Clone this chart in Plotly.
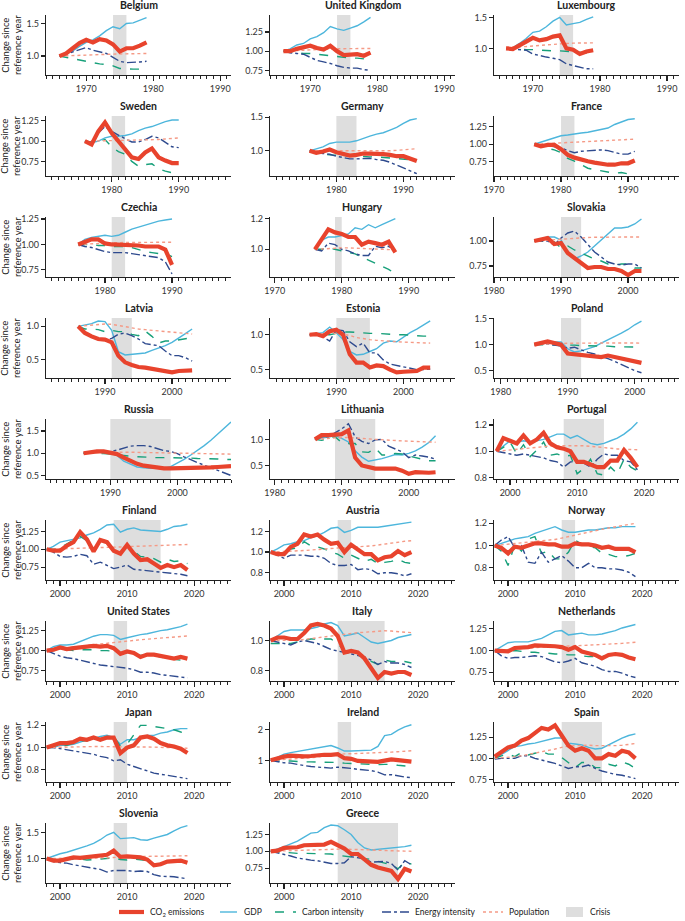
import plotly.graph_objects as go

# ---------------- DATA ----------------
COUNTRIES = ["Belgium", "United Kingdom", "Luxembourg",
             "Sweden", "Germany", "France",
             "Czechia", "Hungary", "Slovakia",
             "Latvia", "Estonia", "Poland",
             "Russia", "Lithuania", "Portugal",
             "Finland", "Austria", "Norway",
             "United States", "Italy", "Netherlands",
             "Japan", "Ireland", "Spain",
             "Slovenia", "Greece"]

START_YEAR = [1966, 1966, 1966, 1976, 1976, 1976, 1976, 1976, 1986,
              1986, 1986, 1985, 1986, 1986, 1998, 1998, 1998, 1998,
              1998, 1998, 1998, 1998, 1998, 1998, 1998, 1998]

CRISIS_START = [1974, 1974, 1974, 1980, 1980, 1980, 1981, 1979, 1990,
                1991, 1990, 1989, 1990, 1989, 2008, 2008, 2008, 2008,
                2008, 2008, 2008, 2008, 2008, 2008, 2008, 2008]
CRISIS_END = [1976, 1976, 1976, 1982, 1983, 1982, 1983, 1980, 1993,
              1994, 1995, 1992, 1999, 1995, 2014, 2015, 2010, 2010,
              2010, 2015, 2010, 2010, 2010, 2014, 2010, 2017]

CO2 = {
    "Belgium": [1.00, 1.04, 1.12, 1.20, 1.25, 1.21, 1.26, 1.24, 1.18, 1.07, 1.12, 1.12, 1.16, 1.21],
    "United Kingdom": [1.00, 1.00, 1.03, 1.05, 1.07, 1.04, 1.02, 1.07, 1.00, 0.95, 0.96, 0.96, 0.94, 0.98],
    "Luxembourg": [1.00, 0.99, 1.05, 1.12, 1.17, 1.13, 1.15, 1.19, 1.21, 1.00, 0.98, 0.91, 0.95, 0.97],
    "Sweden": [1.00, 0.96, 1.12, 1.23, 1.10, 1.00, 0.92, 0.80, 0.78, 0.86, 0.91, 0.80, 0.76, 0.73, 0.73],
    "Germany": [1.00, 0.97, 0.99, 1.02, 0.98, 0.95, 0.93, 0.94, 0.96, 0.96, 0.96, 0.95, 0.94, 0.92, 0.92, 0.89, 0.85],
    "France": [1.00, 0.97, 0.99, 0.99, 0.93, 0.85, 0.81, 0.78, 0.76, 0.74, 0.72, 0.71, 0.71, 0.73, 0.73, 0.77],
    "Czechia": [1.00, 1.03, 1.05, 1.05, 1.01, 1.00, 1.00, 0.99, 0.99, 0.99, 0.98, 0.98, 0.98, 0.95, 0.80],
    "Hungary": [1.00, 1.06, 1.13, 1.11, 1.10, 1.08, 1.08, 1.03, 1.05, 1.04, 1.03, 1.05, 0.98],
    "Slovakia": [1.00, 1.02, 1.03, 0.97, 0.98, 0.88, 0.83, 0.78, 0.73, 0.74, 0.74, 0.72, 0.72, 0.70, 0.66, 0.70, 0.70],
    "Latvia": [1.00, 0.90, 0.85, 0.81, 0.80, 0.76, 0.56, 0.46, 0.42, 0.39, 0.38, 0.36, 0.35, 0.33, 0.31, 0.33, 0.34, 0.34],
    "Estonia": [1.00, 1.01, 0.98, 1.05, 1.07, 1.00, 0.72, 0.60, 0.60, 0.53, 0.56, 0.55, 0.50, 0.46, 0.47, 0.48, 0.48, 0.53, 0.53],
    "Poland": [1.00, 1.03, 1.06, 1.03, 1.00, 0.83, 0.82, 0.80, 0.78, 0.78, 0.76, 0.79, 0.76, 0.73, 0.71, 0.66, 0.65],
    "Russia": [1.00, 1.03, 1.04, 1.04, 1.01, 0.98, 0.90, 0.82, 0.76, 0.72, 0.70, 0.67, 0.66, 0.66, 0.66, 0.66, 0.66, 0.67, 0.67, 0.68, 0.69, 0.70, 0.71],
    "Lithuania": [1.00, 1.08, 1.08, 1.08, 1.10, 1.17, 0.65, 0.50, 0.46, 0.44, 0.44, 0.43, 0.44, 0.40, 0.34, 0.37, 0.36, 0.36, 0.37],
    "Portugal": [1.00, 1.10, 1.08, 1.06, 1.12, 1.06, 1.09, 1.14, 1.06, 1.03, 1.02, 1.00, 0.92, 0.92, 0.90, 0.88, 0.88, 0.93, 0.93, 1.01, 0.95, 0.88],
    "Finland": [1.00, 0.98, 0.98, 1.05, 1.10, 1.24, 1.14, 0.97, 1.13, 1.10, 0.98, 0.94, 1.06, 0.94, 0.85, 0.86, 0.80, 0.74, 0.78, 0.75, 0.78, 0.71],
    "Austria": [1.00, 0.98, 0.98, 1.05, 1.08, 1.17, 1.15, 1.17, 1.12, 1.08, 1.09, 1.00, 1.07, 1.02, 0.98, 0.98, 0.92, 0.95, 0.96, 1.01, 0.97, 1.00],
    "Norway": [1.00, 0.98, 0.93, 0.99, 0.98, 1.00, 1.02, 1.02, 1.01, 1.01, 0.99, 0.99, 1.02, 1.01, 1.01, 1.00, 0.98, 0.99, 0.97, 0.97, 0.97, 0.94],
    "United States": [1.00, 1.01, 1.04, 1.02, 1.03, 1.04, 1.05, 1.06, 1.05, 1.06, 1.03, 0.96, 0.99, 0.97, 0.92, 0.95, 0.95, 0.93, 0.91, 0.90, 0.92, 0.90],
    "Italy": [1.00, 1.02, 1.02, 1.01, 1.01, 1.05, 1.10, 1.11, 1.10, 1.08, 1.03, 0.92, 0.93, 0.92, 0.88, 0.82, 0.75, 0.79, 0.78, 0.79, 0.79, 0.77],
    "Netherlands": [1.00, 0.99, 0.99, 1.03, 1.03, 1.04, 1.06, 1.06, 1.05, 1.05, 1.04, 1.01, 1.04, 0.99, 0.97, 0.95, 0.91, 0.95, 0.96, 0.95, 0.92, 0.90],
    "Japan": [1.00, 1.02, 1.04, 1.04, 1.05, 1.08, 1.07, 1.09, 1.07, 1.09, 1.09, 0.95, 1.00, 1.02, 1.09, 1.10, 1.08, 1.04, 1.02, 1.01, 0.99, 0.95],
    "Ireland": [1.00, 1.07, 1.12, 1.15, 1.13, 1.13, 1.14, 1.17, 1.18, 1.18, 1.20, 1.07, 1.05, 0.98, 0.97, 0.96, 0.95, 0.99, 1.03, 1.01, 1.00, 0.96],
    "Spain": [1.02, 1.08, 1.13, 1.15, 1.21, 1.24, 1.30, 1.36, 1.34, 1.39, 1.27, 1.15, 1.09, 1.12, 1.09, 1.00, 1.00, 1.05, 1.03, 1.09, 1.07, 1.00],
    "Slovenia": [1.00, 0.96, 0.96, 1.00, 1.02, 1.01, 1.02, 1.04, 1.05, 1.07, 1.15, 1.03, 1.04, 1.04, 1.02, 0.98, 0.87, 0.89, 0.94, 0.95, 0.96, 0.92],
    "Greece": [1.00, 1.01, 1.05, 1.06, 1.06, 1.09, 1.09, 1.10, 1.10, 1.14, 1.09, 1.04, 0.96, 0.96, 0.88, 0.80, 0.76, 0.74, 0.71, 0.59, 0.74, 0.70],
}

GDP = {
    "Belgium": [1.00, 1.04, 1.08, 1.15, 1.21, 1.25, 1.31, 1.39, 1.45, 1.42, 1.50, 1.51, 1.55, 1.59],
    "United Kingdom": [1.00, 1.03, 1.08, 1.10, 1.16, 1.19, 1.24, 1.32, 1.29, 1.27, 1.30, 1.33, 1.38, 1.44],
    "Luxembourg": [1.00, 1.01, 1.08, 1.16, 1.26, 1.28, 1.35, 1.44, 1.50, 1.38, 1.40, 1.42, 1.47, 1.51],
    "Sweden": [1.00, 0.98, 1.00, 1.04, 1.06, 1.06, 1.07, 1.09, 1.13, 1.16, 1.18, 1.21, 1.24, 1.26, 1.26],
    "Germany": [1.00, 1.03, 1.06, 1.11, 1.13, 1.13, 1.13, 1.15, 1.19, 1.22, 1.25, 1.27, 1.31, 1.35, 1.41, 1.46, 1.48],
    "France": [1.00, 1.03, 1.07, 1.10, 1.12, 1.13, 1.15, 1.16, 1.17, 1.19, 1.21, 1.23, 1.28, 1.32, 1.35, 1.36],
    "Czechia": [1.00, 1.05, 1.07, 1.08, 1.09, 1.08, 1.09, 1.12, 1.15, 1.17, 1.19, 1.21, 1.23, 1.24, 1.25],
    "Hungary": [1.00, 1.06, 1.08, 1.08, 1.09, 1.10, 1.14, 1.13, 1.16, 1.14, 1.16, 1.18, 1.20],
    "Slovakia": [1.00, 1.02, 1.04, 1.04, 1.01, 0.88, 0.82, 0.85, 0.89, 0.95, 1.01, 1.07, 1.13, 1.13, 1.14, 1.17, 1.22],
    "Latvia": [1.00, 1.02, 1.04, 1.08, 1.07, 0.94, 0.62, 0.57, 0.58, 0.59, 0.60, 0.64, 0.67, 0.71, 0.76, 0.82, 0.89, 0.96],
    "Estonia": [1.00, 1.02, 1.03, 1.11, 1.03, 0.93, 0.76, 0.71, 0.72, 0.76, 0.80, 0.88, 0.91, 0.90, 0.97, 1.03, 1.08, 1.14, 1.20],
    "Poland": [1.00, 1.03, 1.05, 1.05, 1.05, 0.92, 0.86, 0.88, 0.92, 0.96, 1.03, 1.09, 1.16, 1.22, 1.29, 1.38, 1.45],
    "Russia": [1.00, 1.01, 1.03, 1.03, 1.00, 0.95, 0.82, 0.76, 0.69, 0.67, 0.66, 0.67, 0.66, 0.70, 0.78, 0.86, 0.96, 1.06, 1.17, 1.29, 1.42, 1.56, 1.70],
    "Lithuania": [1.00, 1.02, 1.05, 1.07, 1.02, 0.95, 0.78, 0.66, 0.58, 0.60, 0.63, 0.67, 0.71, 0.70, 0.73, 0.78, 0.85, 0.94, 1.07],
    "Portugal": [1.00, 1.04, 1.08, 1.07, 1.08, 1.07, 1.08, 1.09, 1.11, 1.13, 1.13, 1.10, 1.12, 1.09, 1.06, 1.05, 1.06, 1.08, 1.10, 1.13, 1.17, 1.22],
    "Finland": [1.00, 1.04, 1.10, 1.12, 1.14, 1.16, 1.20, 1.23, 1.28, 1.34, 1.35, 1.24, 1.28, 1.30, 1.27, 1.26, 1.25, 1.25, 1.28, 1.32, 1.33, 1.35],
    "Austria": [1.00, 1.03, 1.07, 1.08, 1.10, 1.11, 1.14, 1.16, 1.19, 1.23, 1.24, 1.19, 1.21, 1.24, 1.24, 1.24, 1.24, 1.25, 1.26, 1.27, 1.28, 1.29],
    "Norway": [1.00, 1.02, 1.04, 1.06, 1.07, 1.08, 1.11, 1.13, 1.15, 1.17, 1.14, 1.12, 1.12, 1.13, 1.14, 1.14, 1.15, 1.16, 1.16, 1.17, 1.17, 1.17],
    "United States": [1.00, 1.05, 1.07, 1.07, 1.08, 1.11, 1.15, 1.18, 1.20, 1.20, 1.19, 1.14, 1.16, 1.18, 1.20, 1.21, 1.23, 1.25, 1.26, 1.28, 1.30, 1.33],
    "Italy": [1.00, 1.03, 1.06, 1.07, 1.07, 1.07, 1.08, 1.09, 1.11, 1.12, 1.10, 1.03, 1.04, 1.05, 1.02, 0.99, 0.98, 0.99, 1.00, 1.02, 1.03, 1.04],
    "Netherlands": [1.00, 1.05, 1.09, 1.10, 1.10, 1.10, 1.12, 1.14, 1.18, 1.22, 1.23, 1.18, 1.19, 1.20, 1.18, 1.18, 1.19, 1.21, 1.23, 1.26, 1.28, 1.30],
    "Japan": [1.00, 1.00, 1.02, 1.02, 1.03, 1.05, 1.07, 1.08, 1.10, 1.11, 1.09, 1.03, 1.07, 1.07, 1.09, 1.11, 1.11, 1.13, 1.14, 1.16, 1.17, 1.17],
    "Ireland": [1.00, 1.11, 1.20, 1.25, 1.29, 1.32, 1.36, 1.40, 1.44, 1.48, 1.40, 1.30, 1.30, 1.31, 1.31, 1.33, 1.45, 1.80, 1.84, 1.98, 2.08, 2.15],
    "Spain": [1.00, 1.05, 1.10, 1.14, 1.15, 1.17, 1.18, 1.20, 1.22, 1.24, 1.24, 1.18, 1.17, 1.16, 1.13, 1.11, 1.12, 1.16, 1.20, 1.24, 1.27, 1.29],
    "Slovenia": [1.00, 1.05, 1.09, 1.12, 1.16, 1.19, 1.24, 1.29, 1.36, 1.45, 1.50, 1.38, 1.39, 1.40, 1.36, 1.35, 1.39, 1.42, 1.46, 1.53, 1.59, 1.63],
    "Greece": [1.00, 1.03, 1.07, 1.11, 1.15, 1.21, 1.27, 1.28, 1.35, 1.39, 1.38, 1.32, 1.25, 1.13, 1.05, 1.02, 1.03, 1.03, 1.04, 1.05, 1.07, 1.09],
}

CARBON_INTENSITY = {
    "Belgium": [1.00, 0.98, 0.95, 0.93, 0.91, 0.90, 0.88, 0.87, 0.85, 0.81, 0.80, 0.80, 0.80, 0.81],
    "United Kingdom": [1.00, 0.99, 0.98, 0.97, 0.97, 0.96, 0.95, 0.94, 0.93, 0.92, 0.91, 0.91, 0.90, 0.87],
    "Luxembourg": [1.00, 0.99, 0.99, 0.98, 0.98, 0.97, 0.97, 0.96, 0.96, 0.95, 0.94, 0.93, 0.93, 0.93],
    "Sweden": [1.00, 0.99, 0.99, 1.02, 0.93, 0.87, 0.84, 0.75, 0.69, 0.71, 0.72, 0.66, 0.63, 0.61, 0.61],
    "Germany": [1.00, 0.97, 0.95, 0.94, 0.93, 0.93, 0.93, 0.92, 0.92, 0.91, 0.91, 0.90, 0.90, 0.89, 0.88, 0.87, 0.86],
    "France": [1.00, 0.96, 0.94, 0.92, 0.88, 0.80, 0.76, 0.71, 0.66, 0.64, 0.62, 0.60, 0.59, 0.60, 0.58, 0.58],
    "Czechia": [1.00, 1.00, 1.00, 0.99, 0.99, 0.98, 0.98, 0.98, 0.97, 0.95, 0.93, 0.92, 0.91, 0.91, 0.88],
    "Hungary": [1.00, 1.00, 1.01, 1.00, 0.99, 0.98, 0.97, 0.95, 0.93, 0.91, 0.89, 0.87, 0.84],
    "Slovakia": [1.00, 1.00, 0.99, 0.99, 0.93, 0.95, 0.91, 0.88, 0.85, 0.82, 0.80, 0.77, 0.76, 0.77, 0.77, 0.73, 0.73],
    "Latvia": [1.00, 0.96, 0.96, 0.95, 0.92, 0.94, 0.92, 0.92, 0.88, 0.86, 0.93, 0.85, 0.75, 0.78, 0.78, 0.80, 0.82, 0.83],
    "Estonia": [1.00, 1.00, 0.99, 1.00, 1.02, 1.04, 1.04, 1.03, 1.03, 1.02, 1.02, 1.01, 1.01, 1.00, 1.00, 0.99, 0.98, 0.98, 0.98],
    "Poland": [1.00, 1.00, 1.00, 1.00, 0.99, 0.99, 0.99, 0.98, 0.98, 0.98, 0.97, 0.97, 0.96, 0.96, 0.95, 0.95, 0.95],
    "Russia": [1.00, 1.00, 1.00, 0.99, 0.98, 0.97, 0.95, 0.93, 0.92, 0.91, 0.91, 0.90, 0.90, 0.90, 0.89, 0.89, 0.89, 0.88, 0.88, 0.87, 0.87, 0.86, 0.86],
    "Lithuania": [1.00, 0.98, 1.02, 1.05, 0.94, 0.92, 0.92, 0.76, 0.75, 0.83, 0.70, 0.70, 0.73, 0.72, 0.68, 0.65, 0.63, 0.59, 0.59],
    "Portugal": [1.00, 1.03, 1.07, 0.98, 1.05, 0.96, 1.01, 1.07, 0.97, 0.98, 0.96, 0.97, 0.83, 0.87, 0.94, 0.83, 0.82, 0.88, 0.83, 0.94, 0.88, 0.85],
    "Finland": [1.00, 1.00, 1.02, 1.07, 1.12, 1.18, 1.12, 1.00, 1.09, 1.08, 0.99, 0.98, 1.05, 0.97, 0.90, 0.89, 0.87, 0.82, 0.86, 0.83, 0.84, 0.80],
    "Austria": [1.00, 0.97, 0.98, 1.03, 1.04, 1.10, 1.06, 1.05, 1.03, 1.00, 0.98, 0.94, 0.97, 0.94, 0.91, 0.93, 0.89, 0.90, 0.91, 0.93, 0.90, 0.89],
    "Norway": [1.00, 0.95, 0.82, 1.01, 0.95, 1.06, 1.08, 0.93, 0.95, 0.88, 0.88, 0.94, 1.05, 1.01, 0.99, 0.98, 0.93, 0.92, 0.90, 0.90, 0.91, 0.93],
    "United States": [1.00, 1.00, 1.01, 1.01, 1.00, 1.01, 1.01, 1.01, 1.00, 1.00, 0.99, 0.97, 0.97, 0.96, 0.94, 0.95, 0.94, 0.92, 0.90, 0.89, 0.88, 0.87],
    "Italy": [0.98, 0.98, 0.98, 0.98, 0.99, 1.00, 1.01, 1.01, 1.01, 1.01, 0.98, 0.93, 0.93, 0.92, 0.89, 0.86, 0.84, 0.87, 0.86, 0.86, 0.86, 0.85],
    "Netherlands": [1.00, 0.99, 0.99, 1.00, 0.99, 0.98, 0.98, 0.97, 0.97, 0.96, 0.96, 0.95, 0.95, 0.94, 0.93, 0.93, 0.93, 0.95, 0.96, 0.94, 0.93, 0.92],
    "Japan": [1.00, 1.01, 1.01, 1.02, 1.04, 1.06, 1.06, 1.08, 1.08, 1.10, 1.10, 1.01, 1.03, 1.11, 1.20, 1.20, 1.19, 1.18, 1.17, 1.16, 1.14, 1.13],
    "Ireland": [1.00, 0.98, 0.97, 0.98, 0.96, 0.95, 0.95, 0.95, 0.94, 0.93, 0.93, 0.91, 0.90, 0.88, 0.88, 0.87, 0.86, 0.87, 0.87, 0.84, 0.82, 0.80],
    "Spain": [1.00, 1.03, 1.05, 1.02, 1.07, 1.04, 1.06, 1.08, 1.05, 1.05, 1.01, 0.95, 0.89, 0.95, 0.95, 0.89, 0.89, 0.93, 0.91, 0.96, 0.93, 0.88],
    "Slovenia": [1.00, 0.98, 0.97, 0.98, 0.99, 0.99, 0.97, 0.98, 0.98, 1.00, 1.01, 0.98, 0.97, 0.99, 0.98, 0.96, 0.87, 0.91, 0.93, 0.94, 0.94, 0.91],
    "Greece": [1.00, 0.99, 0.98, 0.97, 0.97, 0.97, 0.97, 0.96, 0.96, 0.96, 0.94, 0.93, 0.92, 0.91, 0.90, 0.88, 0.85, 0.83, 0.80, 0.74, 0.84, 0.81],
}

ENERGY_INTENSITY = {
    "Belgium": [1.00, 1.03, 1.07, 1.10, 1.13, 1.09, 1.07, 1.04, 0.98, 0.92, 0.90, 0.90, 0.91, 0.92],
    "United Kingdom": [1.00, 0.98, 0.97, 0.96, 0.92, 0.88, 0.86, 0.84, 0.81, 0.79, 0.78, 0.78, 0.76, 0.75],
    "Luxembourg": [1.00, 0.99, 0.98, 0.97, 0.91, 0.88, 0.86, 0.84, 0.82, 0.75, 0.72, 0.69, 0.67, 0.67],
    "Sweden": [1.00, 0.98, 1.10, 1.18, 1.12, 1.07, 1.03, 0.99, 0.99, 1.02, 1.06, 1.04, 0.99, 0.93, 0.92],
    "Germany": [1.00, 0.97, 0.96, 0.95, 0.92, 0.90, 0.88, 0.88, 0.89, 0.89, 0.87, 0.86, 0.83, 0.79, 0.74, 0.70, 0.66],
    "France": [1.00, 0.98, 0.98, 0.97, 0.95, 0.91, 0.88, 0.90, 0.91, 0.92, 0.92, 0.91, 0.88, 0.86, 0.86, 0.90],
    "Czechia": [1.00, 0.98, 0.97, 0.95, 0.93, 0.92, 0.92, 0.92, 0.91, 0.90, 0.89, 0.88, 0.87, 0.83, 0.71],
    "Hungary": [1.00, 0.99, 1.04, 1.03, 1.00, 0.99, 0.97, 0.96, 0.96, 1.02, 1.01, 1.02, 0.99],
    "Slovakia": [1.00, 1.00, 1.00, 0.96, 1.03, 1.08, 1.10, 1.04, 0.97, 0.89, 0.84, 0.79, 0.77, 0.76, 0.77, 0.77, 0.73],
    "Latvia": [1.00, 0.92, 0.86, 0.80, 0.79, 0.82, 0.88, 0.90, 0.86, 0.81, 0.74, 0.73, 0.71, 0.63, 0.56, 0.56, 0.53, 0.48],
    "Estonia": [1.00, 1.00, 0.97, 0.91, 1.07, 1.06, 0.90, 0.83, 0.88, 0.74, 0.74, 0.64, 0.58, 0.56, 0.54, 0.53, 0.50, 0.50, 0.51],
    "Poland": [1.00, 1.00, 1.01, 0.99, 0.97, 0.93, 0.95, 0.90, 0.85, 0.82, 0.78, 0.73, 0.68, 0.62, 0.56, 0.50, 0.46],
    "Russia": [1.00, 1.02, 1.02, 1.03, 1.04, 1.07, 1.12, 1.16, 1.17, 1.17, 1.15, 1.10, 1.06, 1.04, 0.99, 0.92, 0.85, 0.79, 0.73, 0.67, 0.61, 0.55, 0.50],
    "Lithuania": [1.00, 1.05, 1.05, 1.13, 1.20, 1.30, 1.05, 0.96, 0.92, 0.99, 1.00, 0.87, 0.82, 0.76, 0.65, 0.70, 0.68, 0.66, 0.62],
    "Portugal": [1.00, 0.99, 0.98, 0.97, 0.98, 0.97, 0.96, 0.95, 0.93, 0.92, 0.88, 0.92, 0.92, 0.91, 0.88, 0.94, 0.98, 0.97, 0.97, 0.93, 0.92, 0.86],
    "Finland": [1.00, 0.96, 0.90, 0.89, 0.90, 0.93, 0.91, 0.79, 0.82, 0.78, 0.73, 0.75, 0.78, 0.72, 0.71, 0.71, 0.70, 0.69, 0.68, 0.66, 0.65, 0.63],
    "Austria": [1.00, 0.97, 0.94, 0.97, 0.97, 0.97, 0.96, 0.96, 0.94, 0.89, 0.87, 0.87, 0.88, 0.83, 0.84, 0.83, 0.79, 0.80, 0.80, 0.79, 0.77, 0.79],
    "Norway": [1.00, 1.05, 1.08, 0.98, 1.00, 0.85, 0.84, 0.94, 0.85, 0.88, 0.91, 0.86, 0.80, 0.80, 0.84, 0.80, 0.80, 0.79, 0.79, 0.78, 0.76, 0.72],
    "United States": [1.00, 0.97, 0.93, 0.91, 0.90, 0.88, 0.86, 0.84, 0.82, 0.81, 0.80, 0.79, 0.78, 0.76, 0.73, 0.73, 0.72, 0.70, 0.69, 0.68, 0.67, 0.66],
    "Italy": [1.00, 0.99, 0.98, 0.97, 0.99, 1.00, 0.99, 0.98, 0.96, 0.94, 0.93, 0.92, 0.91, 0.90, 0.89, 0.87, 0.84, 0.86, 0.85, 0.85, 0.84, 0.82],
    "Netherlands": [1.00, 0.94, 0.91, 0.92, 0.92, 0.93, 0.94, 0.93, 0.90, 0.87, 0.86, 0.88, 0.91, 0.86, 0.84, 0.82, 0.78, 0.76, 0.76, 0.74, 0.71, 0.69],
    "Japan": [1.00, 1.00, 0.99, 0.98, 0.97, 0.96, 0.95, 0.94, 0.92, 0.91, 0.88, 0.89, 0.85, 0.83, 0.81, 0.79, 0.77, 0.76, 0.75, 0.74, 0.73, 0.72],
    "Ireland": [1.00, 0.95, 0.92, 0.91, 0.86, 0.83, 0.80, 0.79, 0.77, 0.75, 0.78, 0.77, 0.74, 0.71, 0.69, 0.67, 0.62, 0.53, 0.54, 0.49, 0.46, 0.44],
    "Spain": [0.99, 1.00, 1.00, 1.00, 1.03, 1.03, 1.00, 0.98, 0.96, 0.94, 0.91, 0.88, 0.90, 0.90, 0.92, 0.88, 0.85, 0.83, 0.81, 0.80, 0.78, 0.76],
    "Slovenia": [1.00, 0.94, 0.92, 0.91, 0.88, 0.86, 0.84, 0.82, 0.79, 0.74, 0.77, 0.77, 0.77, 0.75, 0.76, 0.75, 0.69, 0.66, 0.66, 0.65, 0.63, 0.61],
    "Greece": [1.00, 0.98, 0.95, 0.93, 0.90, 0.88, 0.87, 0.86, 0.84, 0.82, 0.82, 0.83, 0.92, 0.90, 0.89, 0.84, 0.84, 0.85, 0.82, 0.72, 0.86, 0.80],
}

POPULATION = {
    "Belgium": [1.00, 1.005, 1.01, 1.013, 1.015, 1.02, 1.023, 1.026, 1.03, 1.033, 1.035, 1.036, 1.037, 1.04],
    "United Kingdom": [1.00, 1.005, 1.01, 1.015, 1.02, 1.025, 1.03, 1.03, 1.032, 1.032, 1.032, 1.032, 1.033, 1.035],
    "Luxembourg": [1.02, 1.02, 1.02, 1.03, 1.04, 1.05, 1.06, 1.07, 1.075, 1.08, 1.085, 1.09, 1.09, 1.09],
    "Sweden": [1.00, 1.003, 1.006, 1.008, 1.01, 1.01, 1.01, 1.012, 1.013, 1.015, 1.017, 1.02, 1.027, 1.033, 1.04],
    "Germany": [1.00, 1.00, 0.998, 0.998, 1.00, 1.00, 1.00, 0.998, 0.995, 0.995, 0.996, 0.998, 1.002, 1.008, 1.015, 1.025, 1.032],
    "France": [1.00, 1.005, 1.01, 1.013, 1.018, 1.022, 1.027, 1.032, 1.037, 1.042, 1.047, 1.052, 1.057, 1.062, 1.067, 1.072],
    "Czechia": [1.00, 1.004, 1.008, 1.012, 1.015, 1.017, 1.018, 1.019, 1.02, 1.021, 1.022, 1.022, 1.022, 1.022, 1.022],
    "Hungary": [1.00, 1.003, 1.006, 1.008, 1.009, 1.009, 1.008, 1.007, 1.005, 1.003, 1.00, 0.998, 0.996],
    "Slovakia": [1.00, 1.005, 1.01, 1.015, 1.02, 1.025, 1.03, 1.033, 1.035, 1.037, 1.039, 1.04, 1.04, 1.04, 1.04, 1.04, 1.04],
    "Latvia": [1.00, 1.01, 1.02, 1.03, 1.035, 1.03, 1.01, 0.99, 0.975, 0.96, 0.95, 0.94, 0.93, 0.92, 0.91, 0.90, 0.89, 0.885],
    "Estonia": [1.00, 1.01, 1.015, 1.02, 1.02, 1.01, 0.99, 0.96, 0.94, 0.93, 0.92, 0.91, 0.905, 0.90, 0.895, 0.89, 0.885, 0.88, 0.88],
    "Poland": [1.00, 1.007, 1.013, 1.018, 1.022, 1.025, 1.028, 1.03, 1.032, 1.034, 1.035, 1.035, 1.035, 1.034, 1.032, 1.03, 1.028],
    "Russia": [1.00, 1.006, 1.012, 1.018, 1.022, 1.024, 1.024, 1.022, 1.02, 1.018, 1.015, 1.012, 1.009, 1.005, 1.00, 0.997, 0.993, 0.99, 0.987, 0.984, 0.982, 0.98, 0.98],
    "Lithuania": [1.00, 1.01, 1.02, 1.03, 1.035, 1.035, 1.03, 1.02, 1.01, 1.00, 0.99, 0.98, 0.975, 0.97, 0.965, 0.96, 0.955, 0.95, 0.945],
    "Portugal": [1.00, 1.005, 1.01, 1.018, 1.025, 1.03, 1.035, 1.038, 1.04, 1.042, 1.043, 1.043, 1.043, 1.042, 1.038, 1.032, 1.027, 1.022, 1.018, 1.015, 1.013, 1.012],
    "Finland": [1.00, 1.002, 1.004, 1.006, 1.009, 1.012, 1.015, 1.018, 1.021, 1.025, 1.029, 1.033, 1.037, 1.041, 1.045, 1.049, 1.053, 1.057, 1.06, 1.063, 1.065, 1.067],
    "Austria": [1.00, 1.002, 1.004, 1.007, 1.011, 1.015, 1.02, 1.026, 1.031, 1.035, 1.039, 1.042, 1.045, 1.049, 1.054, 1.06, 1.068, 1.078, 1.09, 1.098, 1.104, 1.11],
    "Norway": [1.00, 1.006, 1.012, 1.017, 1.022, 1.027, 1.033, 1.039, 1.046, 1.055, 1.067, 1.079, 1.092, 1.105, 1.119, 1.133, 1.147, 1.159, 1.171, 1.182, 1.19, 1.20],
    "United States": [1.00, 1.012, 1.024, 1.035, 1.045, 1.055, 1.065, 1.074, 1.084, 1.094, 1.104, 1.113, 1.121, 1.129, 1.136, 1.143, 1.15, 1.158, 1.165, 1.172, 1.178, 1.183],
    "Italy": [1.00, 1.00, 1.00, 1.00, 1.002, 1.007, 1.013, 1.019, 1.023, 1.03, 1.037, 1.043, 1.048, 1.052, 1.055, 1.06, 1.065, 1.065, 1.063, 1.06, 1.057, 1.052],
    "Netherlands": [1.00, 1.006, 1.013, 1.02, 1.027, 1.032, 1.036, 1.039, 1.041, 1.043, 1.046, 1.05, 1.055, 1.059, 1.062, 1.065, 1.068, 1.072, 1.077, 1.083, 1.089, 1.095],
    "Japan": [1.00, 1.002, 1.004, 1.006, 1.007, 1.008, 1.009, 1.009, 1.009, 1.009, 1.008, 1.008, 1.008, 1.007, 1.006, 1.005, 1.004, 1.002, 1.00, 0.998, 0.996, 0.994],
    "Ireland": [1.00, 1.01, 1.025, 1.04, 1.055, 1.07, 1.085, 1.11, 1.14, 1.17, 1.20, 1.21, 1.215, 1.22, 1.225, 1.23, 1.24, 1.25, 1.265, 1.28, 1.295, 1.31],
    "Spain": [1.00, 1.004, 1.01, 1.02, 1.03, 1.045, 1.06, 1.075, 1.09, 1.11, 1.13, 1.145, 1.15, 1.155, 1.155, 1.15, 1.148, 1.148, 1.15, 1.155, 1.165, 1.175],
    "Slovenia": [1.00, 1.00, 1.00, 1.001, 1.002, 1.003, 1.004, 1.006, 1.008, 1.012, 1.02, 1.028, 1.034, 1.036, 1.038, 1.04, 1.041, 1.042, 1.042, 1.043, 1.046, 1.052],
    "Greece": [1.00, 1.004, 1.008, 1.012, 1.015, 1.018, 1.021, 1.025, 1.028, 1.03, 1.032, 1.033, 1.032, 1.03, 1.025, 1.02, 1.015, 1.01, 1.008, 1.005, 1.003, 1.002],
}

LEGEND_NAMES = ["CO<sub>2</sub> emissions", "GDP", "Carbon intensity",
                "Energy intensity", "Population", "Crisis"]

# ---------------- LAYOUT / STYLE PARAMETERS ----------------
W, H = 685, 921
FONT = "Lato"
COL_LEFT = [46, 270, 494]
PANEL_W = 185
ROW_TOP0, ROW_PITCH, PANEL_H = 15, 101, 60
X_SPAN = 27.6
X_LEFT = [1964.0, 1964.0, 1964.2, 1970.2, 1970.1, 1970.0, 1971.2, 1969.3, 1980.0,
          1981.2, 1980.1, 1979.0, 1980.4, 1979.3, 1997.6, 1997.9, 1997.9, 1997.9,
          1997.9, 1997.9, 1997.9, 1997.9, 1997.9, 1997.9, 1997.9, 1997.9]
Y_RANGE = [(0.71, 1.63), (0.69, 1.47), (0.57, 1.54),
           (0.57, 1.31), (0.625, 1.52), (0.55, 1.40),
           (0.68, 1.27), (0.82, 1.21), (0.64, 1.24),
           (0.225, 1.125), (0.38, 1.24), (0.36, 1.51),
           (0.42, 1.77), (0.24, 1.39), (0.79, 1.245),
           (0.57, 1.41), (0.73, 1.31), (0.69, 1.23),
           (0.62, 1.37), (0.73, 1.13), (0.65, 1.34),
           (0.69, 1.23), (0.30, 2.24), (0.72, 1.43),
           (0.53, 1.68), (0.53, 1.42)]
Y_DTICK = [0.5, 0.25, 0.5, 0.25, 0.5, 0.25, 0.25, 0.2, 0.25, 0.5, 0.5, 0.5, 0.5,
           0.5, 0.2, 0.25, 0.2, 0.2, 0.25, 0.2, 0.25, 0.2, 1, 0.25, 0.5, 0.25]

STYLES = [
    # (data dict, color, width, dash)
    (CO2, "#E8432D", 4.2, "solid"),
    (GDP, "#4DB6DC", 1.4, "solid"),
    (CARBON_INTENSITY, "#17A07A", 1.4, "dash"),
    (ENERGY_INTENSITY, "#2E4A8E", 1.4, "dashdot"),
    (POPULATION, "#F59A86", 1.4, "dot"),
]
DRAW_ORDER = [1, 2, 3, 4, 0]  # CO2 on top
CRISIS_COLOR = "#DEDEDE"
AX_COLOR = "#222222"
TICK_FONT = dict(family=FONT, size=9, color="#333333")

# legend geometry (pixels): (sample x0, sample x1, text x)
LEGEND_POS = [(119, 144, 148), (220, 237, 242), (275, 296, 300),
              (382, 409, 413), (483, 503, 507), (566, 583, 588)]
LEGEND_Y = 912

fig = go.Figure()
shapes, annotations = [], []
layout_axes = {}
N = len(COUNTRIES)

for i, country in enumerate(COUNTRIES):
    r, c = divmod(i, 3)
    n = i + 1
    xs = "" if n == 1 else str(n)
    xname, yname = "x" + xs, "y" + xs

    left = COL_LEFT[c]
    top = ROW_TOP0 + ROW_PITCH * r
    bottom = top + PANEL_H
    xdom = [left / W, (left + PANEL_W) / W]
    ydom = [1 - bottom / H, 1 - top / H]

    n_pts = len(CO2[country])
    years = list(range(START_YEAR[i], START_YEAR[i] + n_pts))

    for k in DRAW_ORDER:
        data, color, width, dash = STYLES[k]
        fig.add_trace(go.Scatter(
            x=years, y=data[country], mode="lines",
            line=dict(color=color, width=width, dash=dash),
            name=LEGEND_NAMES[k], showlegend=False,
            xaxis=xname, yaxis=yname, hoverinfo="skip"))

    shapes.append(dict(type="rect", xref=xname, yref=yname + " domain",
                       x0=CRISIS_START[i], x1=CRISIS_END[i], y0=0, y1=1,
                       fillcolor=CRISIS_COLOR, line=dict(width=0), layer="below"))

    dt = Y_DTICK[i]
    fmt = ".2f" if dt == 0.25 else (".1f" if dt < 1 else "d")
    layout_axes["xaxis" + xs] = dict(
        domain=xdom, anchor=yname, range=[X_LEFT[i], X_LEFT[i] + X_SPAN],
        showline=True, linecolor=AX_COLOR, linewidth=1.2,
        ticks="outside", ticklen=5, tickwidth=1.2, tickcolor=AX_COLOR,
        tick0=1900, dtick=10, tickfont=TICK_FONT, automargin=False,
        minor=dict(dtick=1, tick0=1900, ticks="outside", ticklen=3,
                   tickwidth=1, tickcolor=AX_COLOR, showgrid=False),
        showgrid=False, zeroline=False, fixedrange=True)
    layout_axes["yaxis" + xs] = dict(
        domain=ydom, anchor=xname, range=list(Y_RANGE[i]),
        showline=True, linecolor=AX_COLOR, linewidth=1.2,
        ticks="outside", ticklen=4, tickwidth=1.2, tickcolor=AX_COLOR,
        tick0=0, dtick=dt, tickformat=fmt, tickfont=TICK_FONT, automargin=False,
        showgrid=False, zeroline=False, fixedrange=True)
    layout_axes["yaxis" + str(N + n)] = dict(
        overlaying=yname, anchor=xname, side="right", range=list(Y_RANGE[i]),
        showline=True, linecolor=AX_COLOR, linewidth=1.2,
        ticks="inside", ticklen=4, tickwidth=1.2, tickcolor=AX_COLOR,
        tick0=0, dtick=dt, showticklabels=False, automargin=False,
        showgrid=False, zeroline=False, fixedrange=True)

    annotations.append(dict(
        text="<b>" + country + "</b>", xref="paper", yref="paper",
        x=(xdom[0] + xdom[1]) / 2, y=1 - (top - 10) / H,
        xanchor="center", yanchor="middle", showarrow=False,
        font=dict(family=FONT, size=10.5, color="#222222")))
    if c == 0:
        annotations.append(dict(
            text="Change since<br>reference year", xref="paper", yref="paper",
            x=11 / W, y=1 - (top + PANEL_H / 2) / H, textangle=-90,
            xanchor="center", yanchor="middle", showarrow=False,
            font=dict(family=FONT, size=9.5, color="#222222")))

# ---- legend drawn as shapes + text ----
ly = 1 - LEGEND_Y / H
for k, (x0, x1, xt) in enumerate(LEGEND_POS):
    if k < 5:
        _, color, width, dash = STYLES[k]
        shapes.append(dict(type="line", xref="paper", yref="paper",
                           x0=x0 / W, x1=x1 / W, y0=ly, y1=ly,
                           line=dict(color=color, width=width, dash=dash)))
    else:
        shapes.append(dict(type="rect", xref="paper", yref="paper",
                           x0=x0 / W, x1=x1 / W,
                           y0=1 - (LEGEND_Y + 5) / H, y1=1 - (LEGEND_Y - 5) / H,
                           fillcolor=CRISIS_COLOR, line=dict(width=0)))
    annotations.append(dict(
        text=LEGEND_NAMES[k], xref="paper", yref="paper",
        x=xt / W, y=ly, xanchor="left", yanchor="middle", showarrow=False,
        font=dict(family=FONT, size=8.5, color="#222222")))

fig.update_layout(
    width=W, height=H,
    margin=dict(l=0, r=0, t=0, b=0, autoexpand=False),
    paper_bgcolor="white", plot_bgcolor="white",
    font=dict(family=FONT, color="#222222"),
    shapes=shapes, annotations=annotations,
    showlegend=False,
    **layout_axes)

fig.write_html("out.html",
               config={"displayModeBar": False, "staticPlot": True},
               post_script="document.body.style.margin='0';"
                           "document.body.style.overflow='hidden';")
